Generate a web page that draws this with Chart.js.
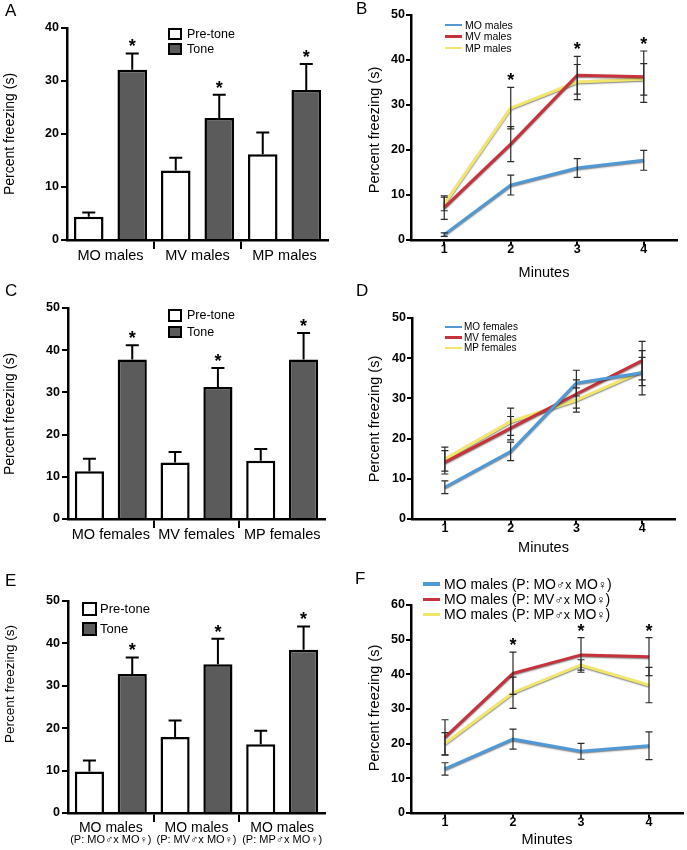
<!DOCTYPE html>
<html>
<head>
<meta charset="utf-8">
<title>Percent freezing</title>
<script src="https://cdn.jsdelivr.net/npm/chart.js@4.4.1/dist/chart.umd.min.js"></script>
<style>
  body { margin: 0; background: #fff; }
  #fig { position: relative; width: 687px; height: 850px; overflow: hidden;
         font-family: "Liberation Sans", Arial, Helvetica, sans-serif; color: #000; }
  #fig canvas { position: absolute; }
  .letter { position: absolute; font-size: 17px; line-height: 17px; }
  .sym { font-size: 0.88em; }
</style>
</head>
<body>
<div id="fig">
  <canvas id="chartA" width="340" height="280" style="left:0;top:0"></canvas>
  <canvas id="chartB" width="347" height="280" style="left:340px;top:0"></canvas>
  <canvas id="chartC" width="340" height="280" style="left:0;top:280px"></canvas>
  <canvas id="chartD" width="347" height="280" style="left:340px;top:280px"></canvas>
  <canvas id="chartE" width="340" height="290" style="left:0;top:560px"></canvas>
  <canvas id="chartF" width="347" height="290" style="left:340px;top:560px"></canvas>
  <div class="letter" style="left:5px;top:2px">A</div>
  <div class="letter" style="left:356px;top:0px">B</div>
  <div class="letter" style="left:5px;top:282px">C</div>
  <div class="letter" style="left:356px;top:282px">D</div>
  <div class="letter" style="left:5px;top:572px">E</div>
  <div class="letter" style="left:355px;top:570px">F</div>
</div>
<script>
// ---- data ----
const minutes = ['1', '2', '3', '4'];

// A: males, pre-tone vs tone
const groupsA = ['MO males', 'MV males', 'MP males'];
const preA = [4.4, 13.1, 16.2];
const preErrA = [0.8, 2.4, 4.1];
const toneA = [32.1, 23.0, 28.3];
const toneErrA = [3.1, 4.4, 4.9];
const sigA = [true, true, true];

// B: males by minute
const moB = [1.2, 12.2, 16.0, 17.7];
const moErrB = [0.4, 2.2, 2.1, 2.2];
const mvB = [7.2, 21.3, 36.6, 36.3];
const mvErrB = [2.6, 3.9, 4.2, 5.7];
const mpB = [8.0, 29.3, 35.1, 35.7];
const mpErrB = [1.5, 4.6, 3.9, 3.5];
const sigB = [false, true, true, true];

// C: females, pre-tone vs tone
const groupsC = ['MO females', 'MV females', 'MP females'];
const preC = [11.3, 13.4, 13.8];
const preErrC = [3.0, 2.5, 2.8];
const toneC = [37.8, 31.3, 37.8];
const toneErrC = [3.4, 4.5, 6.3];
const sigC = [true, true, true];

// D: females by minute
const moD = [7.9, 16.8, 33.8, 36.4];
const moErrD = [1.6, 2.3, 3.2, 5.5];
const mvD = [14.1, 22.6, 31.1, 39.4];
const mvErrD = [2.9, 2.9, 3.5, 4.8];
const mpD = [14.9, 24.2, 29.6, 36.7];
const mpErrD = [3.0, 3.4, 3.0, 3.5];
const sigD = [false, false, false, false];

// E: MO male offspring by parent pairing
const groupsE = ['MO males', 'MO males', 'MO males'];
const parentsE = ['(P: MO\u2642x MO\u2640)', '(P: MV\u2642x MO\u2640)', '(P: MP\u2642x MO\u2640)'];
const preE = [9.8, 17.9, 16.2];
const preErrE = [2.6, 3.9, 3.2];
const toneE = [32.8, 35.1, 38.5];
const toneErrE = [3.9, 6.0, 5.5];
const sigE = [true, true, true];

// F: MO male offspring by minute
const seriesF = ['MO males (P: MO\u2642x MO\u2640)', 'MO males (P: MV\u2642x MO\u2640)', 'MO males (P: MP\u2642x MO\u2640)'];
const moF = [12.7, 21.3, 17.8, 19.4];
const moErrF = [1.8, 2.9, 2.3, 4.0];
const mvF = [21.8, 40.3, 45.6, 45.1];
const mvErrF = [5.1, 6.1, 5.0, 5.5];
const mpF = [20.0, 34.7, 42.7, 36.9];
const mpErrF = [3.2, 4.5, 1.5, 5.1];
const sigF = [false, true, true, true];

const BLUE = '#4f9ad6', RED = '#c8323c', YELLOW = '#f3e76b';
const FONT = '"Liberation Sans", Arial, Helvetica, sans-serif';

Chart.defaults.font.family = FONT;
Chart.defaults.color = '#000';

// error bars, asterisks, rotated y titles, second label line
const marks = {
  id: 'marks',
  beforeDatasetDraw(chart) {
    if (chart.config.type !== 'line') return;
    const ctx = chart.ctx;
    ctx.save();
    ctx.shadowColor = 'rgba(40,40,40,0.6)';
    ctx.shadowBlur = 1.5;
    ctx.shadowOffsetY = 1;
  },
  afterDatasetDraw(chart) {
    if (chart.config.type !== 'line') return;
    chart.ctx.restore();
  },
  afterDatasetsDraw(chart, args, opts) {
    const ctx = chart.ctx;
    const ys = chart.scales.y;
    const isBar = chart.config.type === 'bar';
    const topPx = [];
    chart.data.datasets.forEach((ds, i) => {
      const meta = chart.getDatasetMeta(i);
      meta.data.forEach((el, j) => {
        const v = ds.data[j], e = ds.errors[j];
        const yTop = ys.getPixelForValue(v + e);
        const yBot = isBar ? el.y : ys.getPixelForValue(v - e);
        const cap = isBar ? 6.5 : 3.5;
        ctx.save();
        ctx.strokeStyle = isBar ? '#000' : '#2a2a2a';
        ctx.lineWidth = isBar ? 2 : 1.2;
        ctx.beginPath();
        ctx.moveTo(el.x, yBot); ctx.lineTo(el.x, yTop);
        ctx.moveTo(el.x - cap, yTop); ctx.lineTo(el.x + cap, yTop);
        if (!isBar) { ctx.moveTo(el.x - cap, yBot); ctx.lineTo(el.x + cap, yBot); }
        ctx.stroke();
        ctx.restore();
        if (isBar && i !== opts.sigDataset) return;
        if (!topPx[j] || yTop < topPx[j].y) topPx[j] = { x: el.x, y: yTop };
      });
    });
    ctx.save();
    ctx.font = 'bold 18px ' + FONT;
    ctx.textAlign = 'center';
    ctx.textBaseline = 'alphabetic';
    ctx.fillStyle = '#000';
    opts.sig.forEach((s, j) => {
      if (!s || !topPx[j]) return;
      ctx.fillText('*', topPx[j].x, topPx[j].y - 1);
    });
    ctx.restore();
  },
  afterDraw(chart, args, opts) {
    const ctx = chart.ctx;
    const t = opts.yTitle;
    ctx.save();
    ctx.translate(t.x, t.y);
    ctx.rotate(-Math.PI / 2);
    ctx.font = t.size + 'px ' + FONT;
    ctx.textAlign = 'center';
    ctx.textBaseline = 'middle';
    ctx.fillStyle = '#000';
    ctx.fillText(t.text, 0, 0);
    ctx.restore();
    if (opts.subLabels) {
      const xs = chart.scales.x;
      ctx.save();
      ctx.font = '11px ' + FONT;
      ctx.textAlign = 'center';
      ctx.textBaseline = 'middle';
      ctx.fillStyle = '#000';
      opts.subLabels.forEach((s, j) => ctx.fillText(s, xs.getPixelForValue(j), opts.subY));
      ctx.restore();
    }
  }
};

function barChart(id, groups, pre, preErr, tone, toneErr, sig, g) {
  return new Chart(document.getElementById(id), {
    type: 'bar',
    data: {
      labels: groups,
      datasets: [
        { label: 'Pre-tone', data: pre, errors: preErr, backgroundColor: '#ffffff', borderColor: '#000',
          borderWidth: 2.5, categoryPercentage: 1, barPercentage: 0.68 },
        { label: 'Tone', data: tone, errors: toneErr, backgroundColor: '#5b5b5b', borderColor: '#000',
          borderWidth: 2.5, categoryPercentage: 1, barPercentage: 0.68 }
      ]
    },
    options: {
      responsive: false,
      animation: false,
      events: [],
      layout: { padding: { left: 0, top: g.top, right: g.w - g.right, bottom: 0 } },
      plugins: {
        legend: { display: false },
        tooltip: { enabled: false },
        marks: { sig: sig, sigDataset: 1, yTitle: g.yTitle, subLabels: g.subLabels, subY: g.subY }
      },
      scales: {
        x: {
          offset: true,
          grid: { offset: true, drawOnChartArea: false, tickLength: 9, lineWidth: 2,
                  color: c => (c.index === undefined || c.index === 0) ? 'rgba(0,0,0,0)' : '#000' },
          border: { color: '#000', width: 2.5 },
          ticks: { font: { size: g.labelSize }, padding: g.labelPad, color: '#000', maxRotation: 0 },
          afterFit: s => { s.height = g.h - g.bottom; }
        },
        y: {
          min: 0, max: g.max,
          ticks: { stepSize: 10, font: { size: 12.5, weight: 'bold' }, padding: 2, color: '#000' },
          grid: { drawOnChartArea: false, tickLength: 6, lineWidth: 2, color: '#000' },
          border: { color: '#000', width: 2.5 },
          afterFit: s => { s.width = g.axis; }
        }
      }
    },
    plugins: [marks]
  });
}

function lineChart(id, labels, series, sig, g) {
  return new Chart(document.getElementById(id), {
    type: 'line',
    data: {
      labels: minutes,
      datasets: series.map((s, i) => ({
        label: labels[i], data: s.data, errors: s.err, borderColor: s.color,
        borderWidth: 3, pointRadius: 0, pointHoverRadius: 0, fill: false, tension: 0
      }))
    },
    options: {
      responsive: false,
      animation: false,
      events: [],
      layout: { padding: { left: 0, top: g.top, right: g.w - g.right, bottom: 0 } },
      plugins: {
        legend: { display: false },
        tooltip: { enabled: false },
        marks: { sig: sig, yTitle: g.yTitle }
      },
      scales: {
        x: {
          offset: true,
          grid: { offset: false, drawOnChartArea: false, tickLength: 5, lineWidth: 2, color: '#000' },
          border: { color: '#000', width: 2.5 },
          ticks: { font: { size: 12.5, weight: 'bold' }, padding: -3, color: '#000' },
          title: { display: true, text: 'Minutes', font: { size: 14.5, lineHeight: 1 },
                   padding: { top: 0, bottom: g.titlePad }, color: '#000' },
          afterFit: s => { s.height = g.h - g.bottom; }
        },
        y: {
          min: 0, max: g.max,
          ticks: { stepSize: 10, font: { size: 12.5, weight: 'bold' }, padding: 1, color: '#000' },
          grid: { drawOnChartArea: false, tickLength: 5, lineWidth: 2, color: '#000' },
          border: { color: '#000', width: 2.5 },
          afterFit: s => { s.width = g.axis; }
        }
      }
    },
    plugins: [marks]
  });
}

const yText = 'Percent freezing (s)';

const chartA = barChart('chartA', groupsA, preA, preErrA, toneA, toneErrA, sigA, {
  w: 340, h: 280, axis: 67, top: 28, bottom: 240, right: 328, max: 40, labelSize: 14.5, labelPad: -1.5,
  yTitle: { text: yText, x: 10, y: 134, size: 14 }
});
const chartC = barChart('chartC', groupsC, preC, preErrC, toneC, toneErrC, sigC, {
  w: 340, h: 280, axis: 68, top: 28, bottom: 239, right: 325, max: 50, labelSize: 14.5, labelPad: -1.5,
  yTitle: { text: yText, x: 10, y: 134, size: 14 }
});
const chartE = barChart('chartE', groupsE, preE, preErrE, toneE, toneErrE, sigE, {
  w: 340, h: 290, axis: 68, top: 41, bottom: 253, right: 325, max: 50, labelSize: 14, labelPad: -2.5,
  yTitle: { text: yText, x: 10, y: 124, size: 13.5 }, subLabels: parentsE, subY: 280
});

const chartB = lineChart('chartB', ['MO males', 'MV males', 'MP males'], [
  { data: moB, err: moErrB, color: BLUE },
  { data: mvB, err: mvErrB, color: RED },
  { data: mpB, err: mpErrB, color: YELLOW }
], sigB, { w: 347, h: 280, axis: 71, top: 15, bottom: 240, right: 337, max: 50, titlePad: 0,
  yTitle: { text: yText, x: 35, y: 130, size: 14.5 } });

const chartD = lineChart('chartD', ['MO females', 'MV females', 'MP females'], [
  { data: moD, err: moErrD, color: BLUE },
  { data: mvD, err: mvErrD, color: RED },
  { data: mpD, err: mpErrD, color: YELLOW }
], sigD, { w: 347, h: 280, axis: 72, top: 38, bottom: 239, right: 335, max: 50, titlePad: 5,
  yTitle: { text: yText, x: 35, y: 139, size: 14.5 } });

const chartF = lineChart('chartF', seriesF, [
  { data: moF, err: moErrF, color: BLUE },
  { data: mvF, err: mvErrF, color: RED },
  { data: mpF, err: mpErrF, color: YELLOW }
], sigF, { w: 347, h: 290, axis: 71, top: 45, bottom: 253, right: 343, max: 60, titlePad: 3,
  yTitle: { text: yText, x: 35, y: 148, size: 14.5 } });

// HTML legends built from the chart datasets
function fmt(label) {
  return label.replace('\u2642x', '<span class="sym">\u2642x</span>').replace('\u2640', '<span class="sym">\u2640</span>');
}
function legend(chart, p) {
  const fig = document.getElementById('fig');
  const isBar = chart.config.type === 'bar';
  chart.data.datasets.forEach((ds, i) => {
    const cy = p.y + i * p.dy;
    const sw = document.createElement('div');
    sw.style.cssText = 'position:absolute;box-sizing:border-box;left:' + p.x + 'px;top:' + (cy - p.sh / 2) +
      'px;width:' + p.sw + 'px;height:' + p.sh + 'px;' +
      (isBar ? 'background:' + ds.backgroundColor + ';border:2px solid #000;' : 'background:' + ds.borderColor + ';');
    const tx = document.createElement('div');
    const lh = p.size * 1.2;
    tx.style.cssText = 'position:absolute;white-space:nowrap;left:' + p.tx + 'px;top:' + (cy - lh / 2) +
      'px;font-size:' + p.size + 'px;line-height:' + lh + 'px;';
    tx.innerHTML = fmt(ds.label);
    fig.appendChild(sw);
    fig.appendChild(tx);
  });
}
legend(chartA, { x: 168, y: 34, dy: 15, sw: 14, sh: 12.5, tx: 187, size: 12.5 });
legend(chartC, { x: 168, y: 315.5, dy: 16.5, sw: 14, sh: 12.5, tx: 187, size: 12.5 });
legend(chartE, { x: 82, y: 609, dy: 20, sw: 15, sh: 14.5, tx: 100, size: 13 });
legend(chartB, { x: 445, y: 25, dy: 11.5, sw: 17, sh: 2.5, tx: 465, size: 10.5 });
legend(chartD, { x: 445, y: 327, dy: 10.5, sw: 17, sh: 2.5, tx: 464, size: 10 });
legend(chartF, { x: 423, y: 584, dy: 15.3, sw: 17, sh: 3.5, tx: 444, size: 14 });
</script>
</body>
</html>
